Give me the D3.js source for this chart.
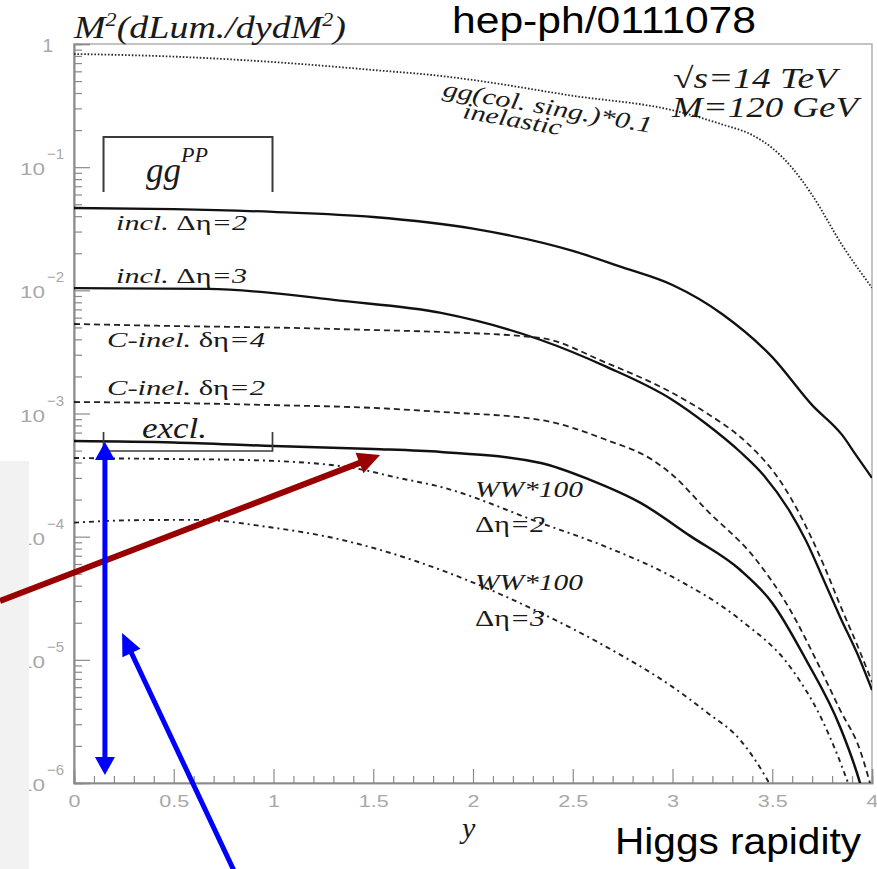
<!DOCTYPE html>
<html><head><meta charset="utf-8">
<script src="https://cdn.jsdelivr.net/npm/d3@7"></script>
<style>body{margin:0;background:#fff}svg{display:block}</style>
</head><body>
<svg id="c" width="877" height="869"></svg>
<script>
// ---------- data ----------
const xMajorTicks = [0, 0.5, 1, 1.5, 2, 2.5, 3, 3.5, 4];
const xTickLabels = ["0", "0.5", "1", "1.5", "2", "2.5", "3", "3.5", "4"];
const yDecadeTicks = [1e-6, 1e-5, 1e-4, 1e-3, 1e-2, 1e-1, 1];
const yDecadeExponents = ["-6", "-5", "-4", "-3", "-2", "-1", "0"];

// gg (colour singlet) * 0.1, inelastic  (dotted)
const ggColSingX = [0, 0.5, 1.0, 1.5, 1.84, 2.0, 2.5, 3.0, 3.25, 3.4, 3.5, 3.6, 3.7, 3.85, 4.0];
const ggColSingV = [0.83, 0.79, 0.714, 0.615, 0.55, 0.51, 0.38, 0.29, 0.222, 0.182, 0.143, 0.0985, 0.0594, 0.0233, 0.0105];
// incl. Δη=2 (solid)
const inclDeta2X = [0, 0.5, 1.0, 1.5, 2.0, 2.5, 2.75, 3.0, 3.25, 3.5, 3.7, 3.85, 3.92, 4.0];
const inclDeta2V = [0.0466, 0.0457, 0.0433, 0.0394, 0.0317, 0.0209, 0.01535, 0.01104, 0.0064, 0.00287, 0.00117, 6.7e-4, 4.6e-4, 3.0e-4];
// incl. Δη=3 (solid)
const inclDeta3X = [0, 0.67, 1.0, 1.3, 1.84, 2.34, 2.67, 3.0, 3.17, 3.34, 3.46, 3.59, 3.67, 3.76, 3.84, 3.94, 4.0];
const inclDeta3V = [0.01044, 0.01026, 0.00951, 0.00835, 0.00655, 0.00395, 0.00239, 1.288e-3, 8.22e-4, 4.87e-4, 3.11e-4, 1.585e-4, 9.23e-5, 4.37e-5, 2.23e-5, 9.97e-6, 5.69e-6];
// C-inel. δη=4 (dashed)
const cinelDeta4X = [0, 0.5, 1.0, 1.5, 1.84, 2.34, 2.67, 3.0, 3.17, 3.34, 3.42, 3.5, 3.59, 3.67, 3.76, 3.84, 3.94, 4.0];
const cinelDeta4V = [5.33e-3, 5.13e-3, 4.99e-3, 4.76e-3, 4.59e-3, 4.10e-3, 2.57e-3, 1.466e-3, 1.01e-3, 6.44e-4, 4.87e-4, 3.48e-4, 2.10e-4, 1.20e-4, 5.78e-5, 2.79e-5, 1.16e-5, 6.61e-6];
// C-inel. δη=2 (dashed)
const cinelDeta2X = [0, 0.5, 1.0, 1.5, 1.84, 2.34, 2.67, 2.9, 3.0, 3.17, 3.42, 3.59, 3.72, 3.84, 3.94, 4.0];
const cinelDeta2V = [1.24e-3, 1.216e-3, 1.17e-3, 1.11e-3, 1.03e-3, 8.85e-4, 6.09e-4, 4.19e-4, 3.17e-4, 1.65e-4, 6.47e-5, 2.54e-5, 9.97e-6, 3.92e-6, 1.85e-6, 8.7e-7];
// excl. (solid)
const exclX = [0, 0.5, 1.0, 1.5, 1.84, 2.34, 2.59, 2.84, 3.09, 3.34, 3.5, 3.67, 3.84, 3.94, 4.0];
const exclV = [5.98e-4, 5.82e-4, 5.44e-4, 5.15e-4, 4.87e-4, 3.97e-4, 2.88e-4, 1.88e-4, 1.01e-4, 5.36e-5, 2.9e-5, 9.97e-6, 2.85e-6, 1.0e-6, 4.2e-7];
// WW*100, Δη=2 (dash-dot)
const ww2X = [0, 0.5, 0.87, 1.37, 1.63, 1.84, 2.34, 2.67, 3.0, 3.34, 3.59, 3.75, 3.88, 4.0];
const ww2V = [4.35e-4, 4.27e-4, 4.19e-4, 3.68e-4, 2.99e-4, 2.53e-4, 1.29e-4, 8.24e-5, 4.71e-5, 2.11e-5, 8.75e-6, 3.25e-6, 1.0e-6, 2.5e-7];
// WW*100, Δη=3 (dash-dot)
const ww3X = [0, 0.3, 0.63, 0.97, 1.3, 1.84, 2.34, 2.67, 3.0, 3.17, 3.34, 3.47, 3.6];
const ww3V = [1.3e-4, 1.36e-4, 1.37e-4, 1.2e-4, 9.76e-5, 5.36e-5, 2.4e-5, 1.27e-5, 6.03e-6, 3.77e-6, 2.23e-6, 1.1e-6, 4.2e-7];

// ---------- chart ----------
const svg = d3.select("#c");
const x = d3.scaleLinear().domain([0, 4]).range([74, 872]);
const y = d3.scaleLog().domain([1e-6, 1]).range([783, 44]);

const SERIF = "'Liberation Serif','Times New Roman',serif";
const SANS = "'Liberation Sans',Arial,Helvetica,sans-serif";
const axisGrey = "#8a8a8a";
const labelGrey = "#a8a8a8";

svg.append("defs").append("clipPath").attr("id", "plot")
  .append("rect").attr("x", x(0)).attr("y", y(1)).attr("width", x(4) - x(0)).attr("height", y(1e-6) - y(1));

// frame
svg.append("rect").attr("x", x(0)).attr("y", y(1)).attr("width", x(4) - x(0)).attr("height", y(1e-6) - y(1))
  .attr("fill", "none").attr("stroke", "#b0b0b0").attr("stroke-width", 1.5);

// x axis
const xMinor = d3.range(0, 41).map(i => i / 10).filter(v => Math.abs(v * 2 - Math.round(v * 2)) > 1e-6);
const gxMinor = svg.append("g").attr("transform", `translate(0,${y(1e-6)})`)
  .call(d3.axisBottom(x).tickValues(xMinor).tickSize(-7).tickFormat(""));
const gx = svg.append("g").attr("transform", `translate(0,${y(1e-6)})`)
  .call(d3.axisBottom(x).tickValues(xMajorTicks).tickSize(-14).tickPadding(9).tickFormat((d, i) => xTickLabels[i]));
[gxMinor, gx].forEach(g => {
  g.select(".domain").attr("stroke", axisGrey).attr("stroke-width", 1.6);
  g.selectAll(".tick line").attr("stroke", axisGrey).attr("stroke-width", 1.2);
});
gx.selectAll(".tick text").attr("fill", labelGrey).attr("font-family", SANS).attr("font-size", 17).attr("dy", "0.9em")
  .attr("textLength", (d, i) => xTickLabels[i].length > 1 ? 30 : 12).attr("lengthAdjust", "spacingAndGlyphs");

// y axis
const yMinor = [];
yDecadeTicks.slice(0, -1).forEach(d => { for (let m = 2; m <= 9; m++) yMinor.push(d * m); });
const gyMinor = svg.append("g").attr("transform", `translate(${x(0)},0)`)
  .call(d3.axisLeft(y).tickValues(yMinor).tickSize(-8).tickFormat(""));
const gy = svg.append("g").attr("transform", `translate(${x(0)},0)`)
  .call(d3.axisLeft(y).tickValues(yDecadeTicks).tickSize(-16).tickFormat(""));
[gyMinor, gy].forEach(g => {
  g.select(".domain").attr("stroke", axisGrey).attr("stroke-width", 1.6);
  g.selectAll(".tick line").attr("stroke", axisGrey).attr("stroke-width", 1.2);
});
// y tick labels (10^n)
const ylab = svg.append("g").attr("fill", labelGrey).attr("font-family", SANS);
yDecadeTicks.forEach((v, i) => {
  const e = yDecadeExponents[i];
  if (e === "0") {
    ylab.append("text").attr("x", 53).attr("y", y(v) + 8).attr("text-anchor", "end").attr("font-size", 19).text("1");
  } else {
    ylab.append("text").attr("x", 20).attr("y", y(v) + 8).attr("font-size", 17)
      .attr("textLength", 25).attr("lengthAdjust", "spacingAndGlyphs").text("10");
    ylab.append("text").attr("x", 47).attr("y", y(v) - 8).attr("font-size", 15).text(e.replace("-", "\u2212"));
  }
});

// curves
const plot = svg.append("g").attr("clip-path", "url(#plot)").attr("fill", "none").attr("stroke", "#111");
const line = d3.line().x(d => x(d[0])).y(d => y(d[1])).curve(d3.curveMonotoneX);
const zip = (a, b) => a.map((v, i) => [v, b[i]]);
const series = [
  { xs: ggColSingX, vs: ggColSingV, w: 1.8, dash: "1.6,1.8", col: "#2a2a2a" },
  { xs: inclDeta2X, vs: inclDeta2V, w: 2.3, dash: null, col: "#111" },
  { xs: inclDeta3X, vs: inclDeta3V, w: 2.3, dash: null, col: "#111" },
  { xs: cinelDeta4X, vs: cinelDeta4V, w: 1.8, dash: "6,4", col: "#222" },
  { xs: cinelDeta2X, vs: cinelDeta2V, w: 1.8, dash: "6,4", col: "#222" },
  { xs: exclX, vs: exclV, w: 2.5, dash: null, col: "#111" },
  { xs: ww2X, vs: ww2V, w: 1.9, dash: "5,4,2,4", col: "#222" },
  { xs: ww3X, vs: ww3V, w: 1.9, dash: "5,4,2,4", col: "#222" }
];
series.forEach(s => {
  plot.append("path").attr("d", line(zip(s.xs, s.vs))).attr("stroke", s.col)
    .attr("stroke-width", s.w).attr("stroke-dasharray", s.dash);
});

// brackets
const bx0 = x(0.148), bx1 = x(0.995);
svg.append("path").attr("fill", "none").attr("stroke", "#3a3a3a").attr("stroke-width", 2)
  .attr("d", `M${bx0},${y(0.0629)}V${y(0.176)}H${bx1}V${y(0.0629)}`);
svg.append("path").attr("fill", "none").attr("stroke", "#3a3a3a").attr("stroke-width", 1.7)
  .attr("d", `M${bx0},${y(7.08e-4)}V${y(4.96e-4)}H${bx1}V${y(7.08e-4)}`);

// ---------- texts ----------
function stext(xp, yp, size, parts, opts = {}) {
  const t = svg.append("text").attr("x", xp).attr("y", yp).attr("font-family", opts.family || SERIF)
    .attr("font-size", size).attr("fill", opts.fill || "#1a1a1a");
  if (opts.anchor) t.attr("text-anchor", opts.anchor);
  if (opts.transform) t.attr("transform", opts.transform);
  if (opts.len) t.attr("textLength", opts.len).attr("lengthAdjust", "spacingAndGlyphs");
  parts.forEach(p => {
    const ts = t.append("tspan").text(p.t).attr("font-style", p.up ? "normal" : "italic");
    if (p.size) ts.attr("font-size", p.size);
    if (p.dy) ts.attr("dy", p.dy);
  });
  return t;
}
// y title
stext(74, 38, 31, [{ t: "M" }, { t: "2", size: 18, dy: -12 }, { t: "(dLum./dydM", dy: 12 }, { t: "2", size: 18, dy: -12 }, { t: ")", dy: 12 }], { len: 272 });
// top/bottom sans labels
svg.append("text").attr("x", 452).attr("y", 33).attr("font-family", SANS).attr("font-size", 36).attr("fill", "#000")
  .attr("textLength", 304).attr("lengthAdjust", "spacingAndGlyphs").text("hep-ph/0111078");
svg.append("text").attr("x", 615).attr("y", 854).attr("font-family", SANS).attr("font-size", 36).attr("fill", "#000")
  .attr("textLength", 246).attr("lengthAdjust", "spacingAndGlyphs").text("Higgs rapidity");
// x title
stext(462, 838, 30, [{ t: "y" }]);
// energy / mass
stext(673, 88, 29, [{ t: "\u221A", up: true }, { t: "s=14 TeV" }], { len: 164 });
stext(672, 117, 29, [{ t: "M=120 GeV" }], { len: 186 });
// gg col sing
stext(442, 96, 23, [{ t: "gg(col. sing.)*0.1" }], { transform: "rotate(10,442,96)", len: 212 });
stext(462, 118, 23, [{ t: "inelastic" }], { transform: "rotate(10,462,118)", len: 100 });
// gg^PP
stext(146, 182, 35, [{ t: "gg" }, { t: "PP", size: 22, dy: -20 }]);
// curve labels
stext(116, 230, 22, [{ t: "incl. " }, { t: "\u0394\u03B7", up: true }, { t: "=2" }], { len: 131 });
stext(116, 283, 22, [{ t: "incl. " }, { t: "\u0394\u03B7", up: true }, { t: "=3" }], { len: 131 });
stext(107, 347, 22, [{ t: "C-inel. " }, { t: "\u03B4\u03B7", up: true }, { t: "=4" }], { len: 158 });
stext(107, 395, 22, [{ t: "C-inel. " }, { t: "\u03B4\u03B7", up: true }, { t: "=2" }], { len: 158 });
stext(142, 438, 30, [{ t: "excl." }], { len: 65 });
stext(475, 497, 24, [{ t: "WW*100" }], { len: 108 });
stext(475, 532, 24, [{ t: "\u0394\u03B7", up: true }, { t: "=2" }], { len: 70 });
stext(475, 590, 24, [{ t: "WW*100" }], { len: 108 });
stext(475, 626, 24, [{ t: "\u0394\u03B7", up: true }, { t: "=3" }], { len: 70 });

// grey panel on the far left
svg.append("rect").attr("x", 0).attr("y", 461).attr("width", 29).attr("height", 408).attr("fill", "#f2f2f2");

// ---------- arrows ----------
function arrow(p0, p1, color, width, headLen, headHalf, both) {
  const g = svg.append("g");
  const dx = p1[0] - p0[0], dy = p1[1] - p0[1], L = Math.hypot(dx, dy);
  const ux = dx / L, uy = dy / L, nx = -uy, ny = ux;
  const s = both ? [p0[0] + ux * headLen * 0.8, p0[1] + uy * headLen * 0.8] : p0;
  const e = [p1[0] - ux * headLen * 0.8, p1[1] - uy * headLen * 0.8];
  g.append("line").attr("x1", s[0]).attr("y1", s[1]).attr("x2", e[0]).attr("y2", e[1])
    .attr("stroke", color).attr("stroke-width", width);
  const head = (tip, vx, vy) => {
    const bx = tip[0] - vx * headLen, by = tip[1] - vy * headLen;
    g.append("path").attr("fill", color)
      .attr("d", `M${tip[0]},${tip[1]}L${bx + nx * headHalf},${by + ny * headHalf}L${bx - nx * headHalf},${by - ny * headHalf}Z`);
  };
  head(p1, ux, uy);
  if (both) head(p0, -ux, -uy);
}
arrow([x(-0.371), y(3.0e-5)], [x(1.534), y(4.6e-4)], "#990000", 6, 22, 11, false);
arrow([x(0.155), y(5.87e-4)], [x(0.155), y(1.16e-6)], "#0000ff", 5, 18, 10, true);
arrow([x(0.812), y(1.79e-7)], [x(0.241), y(1.65e-5)], "#0000ff", 5, 22, 10, false);
</script>
</body></html>
